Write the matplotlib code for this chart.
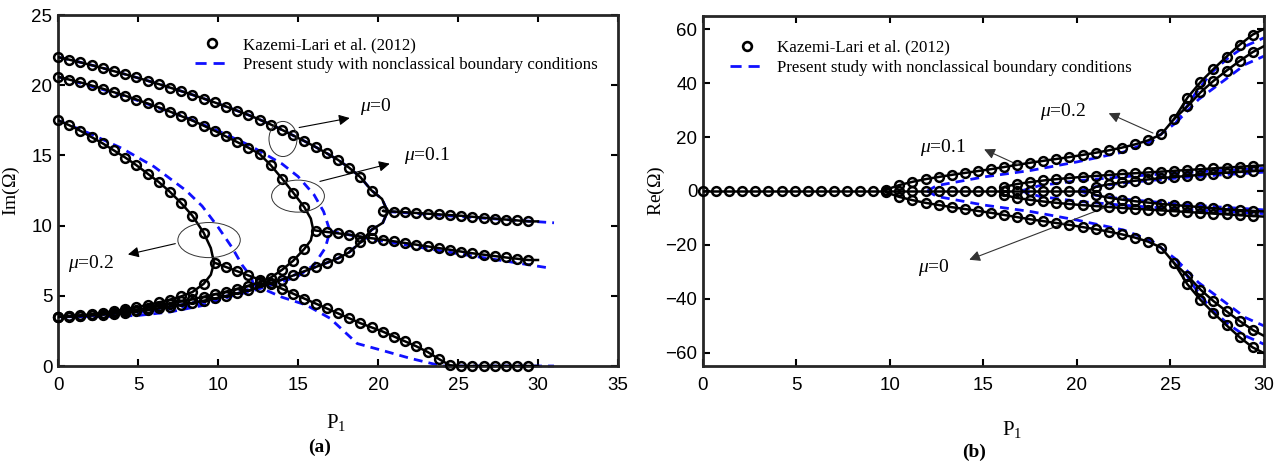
import numpy as np
import matplotlib.pyplot as plt
from matplotlib.patches import Ellipse
from matplotlib.lines import Line2D

plt.rcParams['font.family'] = ['Liberation Sans', 'DejaVu Sans']
plt.rcParams['mathtext.fontset'] = 'custom'
plt.rcParams['mathtext.rm'] = 'Liberation Serif'
plt.rcParams['mathtext.it'] = 'Liberation Serif:italic'
SERIF = 'Liberation Serif'

STEP = 0.7  # spacing of the Kazemi-Lari markers along P1

# ---------------- (a) Im(Omega) ----------------
# mu = 0 : upper / lower branch from P1 = 0, tail from P1 = 20.3
im_up_0 = [22.0, 21.82, 21.63, 21.43, 21.22, 21.0, 20.78, 20.55, 20.32, 20.08,
           19.83, 19.58, 19.32, 19.05, 18.77, 18.48, 18.18, 17.88, 17.55, 17.2,
           16.82, 16.42, 16.02, 15.6, 15.15, 14.68, 14.12, 13.45, 12.5]
im_lo_0 = [3.5, 3.52, 3.55, 3.6, 3.66, 3.73, 3.81, 3.9, 4.0, 4.11,
           4.23, 4.36, 4.5, 4.65, 4.81, 4.98, 5.17, 5.38, 5.62, 5.88,
           6.15, 6.45, 6.75, 7.05, 7.35, 7.67, 8.1, 8.8, 9.7]
turn_p_0 = [19.6, 20.25, 20.6, 20.3, 19.6]
turn_im_0 = [12.5, 11.9, 11.0, 10.2, 9.7]
im_tail_0 = [11.05, 11.0, 10.95, 10.9, 10.85, 10.8, 10.75, 10.7, 10.63, 10.56,
             10.5, 10.43, 10.37, 10.3]

# mu = 0.1 : tail from P1 = 16.1
im_up_1 = [20.6, 20.4, 20.2, 19.98, 19.75, 19.5, 19.25, 18.98, 18.7, 18.42,
           18.12, 17.8, 17.48, 17.12, 16.75, 16.35, 15.95, 15.55, 15.1, 14.3,
           13.35, 12.35, 11.3]
im_lo_1 = [3.5, 3.53, 3.57, 3.63, 3.7, 3.79, 3.9, 4.02, 4.15, 4.29,
           4.44, 4.6, 4.76, 4.93, 5.11, 5.3, 5.5, 5.72, 5.97, 6.3,
           6.85, 7.5, 8.35]
turn_p_1 = [15.4, 15.8, 15.95, 15.8, 15.4]
turn_im_1 = [11.3, 10.5, 9.7, 8.95, 8.35]
im_tail_1 = [9.65, 9.55, 9.45, 9.35, 9.22, 9.1, 9.0, 8.88, 8.76, 8.64,
             8.52, 8.4, 8.28, 8.15, 8.03, 7.93, 7.83, 7.73, 7.64, 7.55]

# mu = 0.2 : tail from P1 = 9.8
im_up_2 = [17.5, 17.15, 16.75, 16.3, 15.85, 15.35, 14.85, 14.3, 13.7, 13.1,
           12.4, 11.6, 10.7, 9.5]
im_lo_2 = [3.5, 3.55, 3.61, 3.69, 3.79, 3.91, 4.04, 4.19, 4.35, 4.53,
           4.73, 4.96, 5.27, 5.85]
turn_p_2 = [9.1, 9.55, 9.75, 9.55, 9.1]
turn_im_2 = [9.5, 8.4, 7.35, 6.5, 5.85]
im_tail_2 = [7.35, 7.05, 6.75, 6.45, 6.15, 5.85, 5.5, 5.15, 4.8, 4.45,
             4.1, 3.75, 3.4, 3.05, 2.75, 2.45, 2.1, 1.75, 1.4, 1.0,
             0.5, 0.05, 0, 0, 0, 0, 0, 0, 0]

# present study (blue dashed)
bl_tail_p_0 = [20.6, 25, 31]
bl_tail_im_0 = [11.0, 10.65, 10.2]
bl_p_1 = [0, 4, 8, 10, 12, 14, 15, 16, 16.6, 17.0, 16.7, 16.0, 15.0, 14.0, 13.0,
          12.0, 10.0, 8.0, 5.0, 0]
bl_im_1 = [20.6, 19.3, 17.7, 16.75, 15.7, 14.4, 13.5, 12.2, 11.0, 9.6, 8.4, 7.2,
           6.4, 6.0, 5.65, 5.3, 4.75, 4.25, 3.8, 3.5]
bl_tail_p_1 = [17.0, 20, 25, 30.6]
bl_tail_im_1 = [9.6, 8.95, 8.0, 7.0]
bl_p_2 = [0, 2, 4, 6, 8, 9, 10, 10.9, 11.5, 12.1, 12.2, 12.0, 10.5, 9, 7, 5, 3, 0]
bl_im_2 = [17.5, 16.55, 15.5, 14.2, 12.5, 11.4, 9.9, 8.4, 7.2, 6.3, 5.8, 5.5,
           4.85, 4.3, 3.85, 3.6, 3.52, 3.5]
bl_tail_p_2 = [12.2, 13, 14, 15.5, 17, 18.7, 20.3, 22, 24, 31]
bl_tail_im_2 = [5.8, 5.4, 4.9, 4.35, 3.4, 1.6, 1.1, 0.55, 0.0, 0.0]

# ---------------- (b) Re(Omega) ----------------
n_stable = 30  # markers on Re = 0 from P1 = 0 to 20.3
re_2 = [0.5, 2.2, 3.4, 4.4, 5.2, 6.0, 6.7, 7.4, 8.1, 8.9,
        9.7, 10.5, 11.2, 11.9, 12.6, 13.4, 14.2, 15.1, 16.1, 17.3,
        18.8, 21.0, 26.8]                      # from P1 = 9.8
re_2a = [34.6, 40.4, 45.3, 49.9, 54.3, 58.1]   # from P1 = 25.9
re_2b = [31.4, 36.6, 40.9, 44.7, 48.3, 51.6]
re_1 = [1.5, 2.6, 3.3, 3.9, 4.4, 4.85, 5.25, 5.6, 5.95, 6.3,
        6.6, 6.9, 7.2, 7.5, 7.8, 8.1, 8.4, 8.7, 9.0, 9.3]  # from P1 = 16.1
re_0 = [1.5, 2.5, 3.2, 3.8, 4.3, 4.8, 5.2, 5.6, 6.0, 6.4,
        6.8, 7.1, 7.4]                          # from P1 = 21.0
onset = [9.75, 15.95, 20.6]

bl_re_p_2 = [12.0, 12.5, 15, 17.5, 20, 22.5, 24.0, 25.3]
bl_re_2 = [0, 2.0, 5.2, 7.6, 10.8, 14.5, 18.5, 25.4]
bl_re_p_2a = [25.3, 26.3, 27.2, 28.1, 29.0, 30]
bl_re_2a = [25.4, 35.9, 44, 49.5, 53.8, 56.9]
bl_re_p_2b = [25.3, 26.5, 27.95, 29, 30]
bl_re_2b = [25.4, 34, 41.5, 47, 50.1]
bl_re_p_1 = [17, 18, 20, 22.5, 25, 27.5, 30]
bl_re_1 = [0, 2.0, 3.8, 5.3, 6.5, 7.5, 8.4]
bl_re_p_0 = [20.1, 21, 22.5, 25, 27.5, 30]
bl_re_0 = [0, 1.6, 3.0, 4.6, 5.9, 7.0]


def grid(start, vals):
    return start + STEP * np.arange(len(vals))


BLUE = '#1010ff'
DASH = (0, (3.2, 2.2))
mk = dict(ls='none', marker='o', ms=6.3, mfc='none', mec='black', mew=1.8,
          zorder=4, clip_on=False)
ln = dict(color='black', lw=1.8, zorder=3)
bl = dict(color=BLUE, lw=2.0, ls=DASH, zorder=2, clip_on=False)

fig = plt.figure(figsize=(12.84, 4.65), dpi=100)
ax1 = fig.add_axes([0.0452, 0.2129, 0.4361, 0.7548])
ax2 = fig.add_axes([0.5475, 0.2129, 0.4369, 0.7527])

# ----- panel (a)
branches = [(im_up_0, im_lo_0, turn_p_0, turn_im_0, im_tail_0, 20.3),
            (im_up_1, im_lo_1, turn_p_1, turn_im_1, im_tail_1, 16.1),
            (im_up_2, im_lo_2, turn_p_2, turn_im_2, im_tail_2, 9.8)]
for up, lo, tp, ti, tail, t0 in branches:
    pu, pl, pt = grid(0, up), grid(0, lo), grid(t0, tail)
    path_p = np.concatenate([pl, tp[::-1], pu[::-1]])
    path_i = np.concatenate([lo, ti[::-1], up[::-1]])
    ax1.plot(path_p, path_i, **ln)
    ax1.plot(np.concatenate([[tp[2]], pt, [30]]),
             np.concatenate([[ti[2]], tail, [tail[-1]]]), **ln)
    ax1.plot(pu, up, **mk)
    ax1.plot(pl, lo, **mk)
    ax1.plot(pt, tail, **mk)

# blue: mu = 0 coincides with Kazemi-Lari
ax1.plot(np.concatenate([grid(0, im_lo_0), turn_p_0[::-1], grid(0, im_up_0)[::-1]]),
         np.concatenate([im_lo_0, turn_im_0[::-1], im_up_0[::-1]]), **bl)
ax1.plot(bl_tail_p_0, bl_tail_im_0, **bl)
ax1.plot(bl_p_1, bl_im_1, **bl)
ax1.plot(bl_tail_p_1, bl_tail_im_1, **bl)
ax1.plot(bl_p_2, bl_im_2, **bl)
ax1.plot(bl_tail_p_2, bl_tail_im_2, **bl)

ax1.set_xlim(0, 35)
ax1.set_ylim(0, 25)
ax1.set_xticks(range(0, 36, 5))
ax1.set_yticks(range(0, 26, 5))

# ellipses, arrows and labels
ell = [(14.06, 16.17, 1.75, 2.5), (15.0, 12.1, 3.3, 2.28), (9.44, 8.97, 3.9, 2.5)]
arr_tail = [(14.9, 16.95), (16.2, 13.1), (7.5, 8.76)]
arr_head = [(18.4, 17.7), (20.9, 14.46), (4.2, 7.9)]
lab_pos = [(18.9, 18.5), (21.6, 15.0), (0.6, 7.3)]
lab_txt = [r'$\mu$=0', r'$\mu$=0.1', r'$\mu$=0.2']
for e, t, hd, lp, s in zip(ell, arr_tail, arr_head, lab_pos, lab_txt):
    ax1.add_patch(Ellipse(e[:2], e[2], e[3], fill=False, lw=0.7,
                          ec='#333333', zorder=5))
    ax1.annotate('', xy=hd, xytext=t,
                 arrowprops=dict(arrowstyle='-|>', lw=0.8, color='black',
                                 mutation_scale=16))
    ax1.text(lp[0], lp[1], s, fontsize=14, va='center', ha='left',
             family=SERIF)

ax1.set_ylabel(r'Im($\Omega$)', fontsize=14, family=SERIF)
ax1.yaxis.set_label_coords(-0.064, 0.5)
ax1.set_xlabel(r'P$_{\mathregular{1}}$', fontsize=15, family=SERIF)
ax1.xaxis.set_label_coords(0.496, -0.13)

# ----- panel (b)
p_stable = grid(0, [0.0] * n_stable)
ax2.plot(np.concatenate([p_stable, [onset[2]]]), [0.0] * (n_stable + 1), **ln)
ax2.plot(p_stable, [0.0] * n_stable, **mk)

for sgn in (1, -1):
    p2 = grid(9.8, re_2)
    pa = grid(25.9, re_2a)
    ax2.plot(np.concatenate([[onset[0]], p2, pa, [30]]),
             sgn * np.concatenate([[0], re_2, re_2a, [60.2]]), **ln)
    ax2.plot(np.concatenate([p2[-1:], pa, [30]]),
             sgn * np.concatenate([re_2[-1:], re_2b, [53.8]]), **ln)
    ax2.plot(p2, sgn * np.array(re_2), **mk)
    ax2.plot(pa, sgn * np.array(re_2a), **mk)
    ax2.plot(pa, sgn * np.array(re_2b), **mk)
    for start, vals, o, end in [(16.1, re_1, onset[1], 9.5), (21.0, re_0, onset[2], 7.6)]:
        pp = grid(start, vals)
        ax2.plot(np.concatenate([[o], pp, [30]]),
                 sgn * np.concatenate([[0], vals, [end]]), **ln)
        ax2.plot(pp, sgn * np.array(vals), **mk)
    ax2.plot(bl_re_p_2, sgn * np.array(bl_re_2), **bl)
    ax2.plot(bl_re_p_2a, sgn * np.array(bl_re_2a), **bl)
    ax2.plot(bl_re_p_2b, sgn * np.array(bl_re_2b), **bl)
    ax2.plot(bl_re_p_1, sgn * np.array(bl_re_1), **bl)
    ax2.plot(bl_re_p_0, sgn * np.array(bl_re_0), **bl)

ax2.set_xlim(0, 30)
ax2.set_ylim(-65, 65)
ax2.set_xticks(range(0, 31, 5))
ax2.set_yticks(range(-60, 61, 20))

for hd, t, lp, s in [((21.56, 29.3), (24.2, 21.1), (18.0, 29.6), r'$\mu$=0.2'),
                     ((14.9, 15.9), (17.1, 8.9), (11.6, 16.3), r'$\mu$=0.1'),
                     ((14.1, -25.9), (21.6, -5.9), (11.5, -28.5), r'$\mu$=0')]:
    ax2.annotate('', xy=hd, xytext=t,
                 arrowprops=dict(arrowstyle='-|>', lw=0.8, color='#333333',
                                 mutation_scale=16))
    ax2.text(lp[0], lp[1], s, fontsize=14, va='center', ha='left', family=SERIF)

ax2.set_ylabel(r'Re($\Omega$)', fontsize=14, family=SERIF)
ax2.yaxis.set_label_coords(-0.064, 0.5)
ax2.set_xlabel(r'P$_{\mathregular{1}}$', fontsize=15, family=SERIF)
ax2.xaxis.set_label_coords(0.551, -0.15)

# common styling
h1 = Line2D([], [], ls='none', marker='o', ms=6.3, mfc='none', mec='black', mew=1.9)
h2 = Line2D([], [], color=BLUE, lw=2.0, ls=(0, (4, 2.5)))
labels = ['Kazemi-Lari et al. (2012)',
          'Present study with nonclassical boundary conditions']
for ax, anchor in [(ax1, (0.245, 0.937)), (ax2, (0.048, 0.932))]:
    ax.legend([h1, h2], labels, loc='upper left', bbox_to_anchor=anchor,
              frameon=False, borderpad=0, borderaxespad=0, handlelength=2.0,
              handletextpad=0.8, labelspacing=0.25,
              prop=dict(family=SERIF, size=12.2))
    for sp in ax.spines.values():
        sp.set_linewidth(2.0)
        sp.set_color('#262626')
    ax.tick_params(direction='in', top=True, right=True, length=5, width=1.5,
                   labelsize=13.5)
    ax.tick_params(axis='x', pad=8)
    ax.tick_params(axis='y', pad=4)

fig.text(0.249, 0.039, '(a)', fontsize=14, fontweight='bold', ha='center',
         va='center', family=SERIF)
fig.text(0.7586, 0.028, '(b)', fontsize=14, fontweight='bold', ha='center',
         va='center', family=SERIF)

fig.savefig('out.png', dpi=100)
